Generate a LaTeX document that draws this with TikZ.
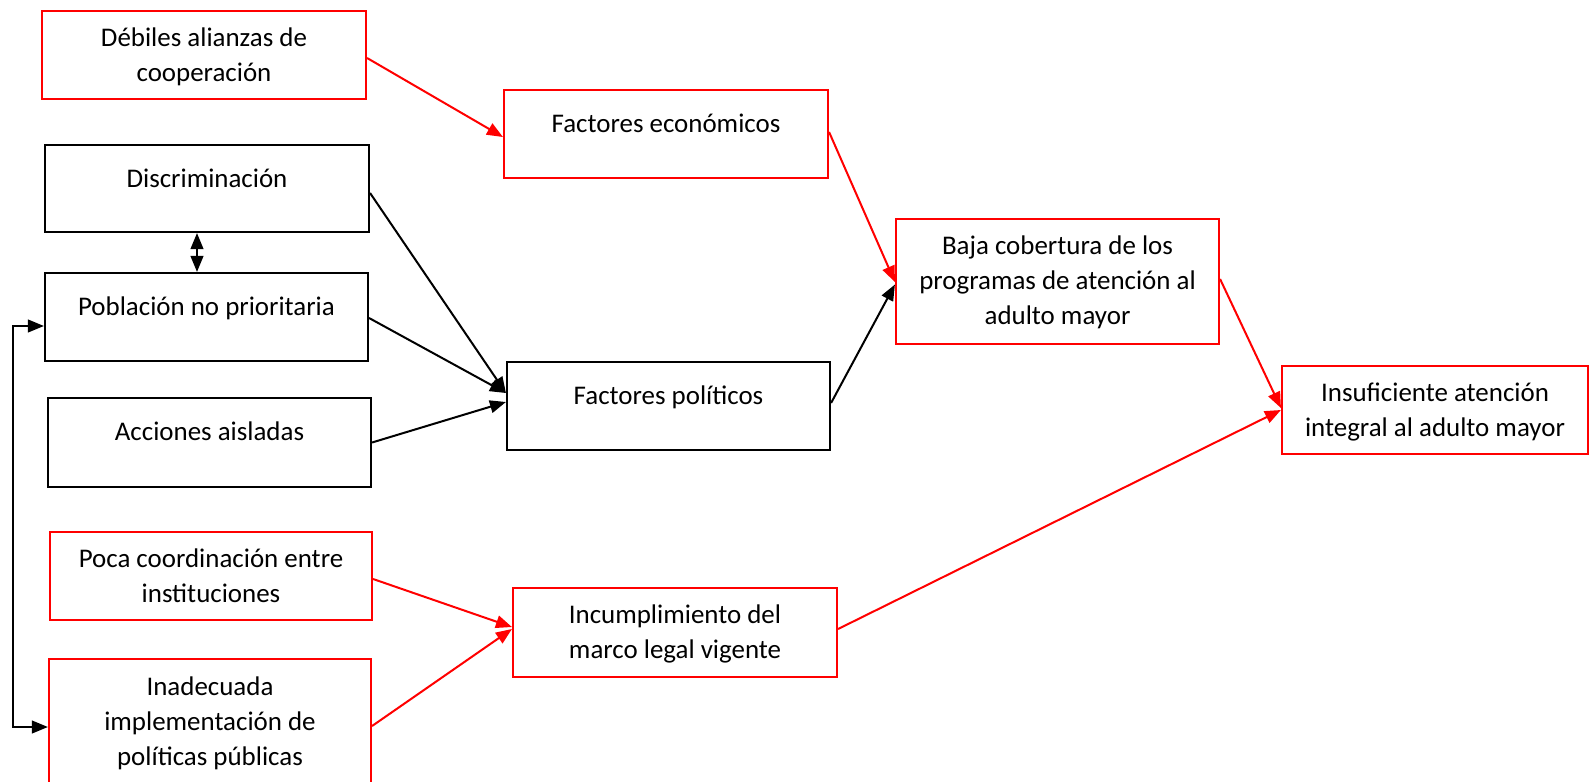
\documentclass[tikz,border=0pt]{standalone}
\usepackage{fontspec}
\setmainfont{Carlito}
\usetikzlibrary{arrows.meta,calc}
\begin{document}
\begin{tikzpicture}[x=0.75pt,y=-0.75pt,
  box/.style={draw, line width=1.6pt, inner sep=0pt},
  rbox/.style={box, draw=red},
  kbox/.style={box, draw=black},
  txt/.style={anchor=north, inner sep=0pt, align=center, font=\fontsize{20.2}{26.4}\selectfont},
  arr/.style={line width=1.5pt, -{Triangle[length=12pt,width=9.5pt]}},
  rarr/.style={arr, color=red},
  karr/.style={arr, color=black},
  darr/.style={line width=1.5pt, {Triangle[length=12pt,width=9.5pt]}-{Triangle[length=12pt,width=9.5pt]}, color=black}
]
\useasboundingbox (0,0) rectangle (1589,782);

% boxes
\node[rbox, minimum width=243pt, minimum height=66pt] (deb) at (204,55) {};
\node[rbox, minimum width=243pt, minimum height=66pt] (eco) at (666,134) {};
\node[kbox, minimum width=243pt, minimum height=65.25pt] (dis) at (207,188.5) {};
\node[kbox, minimum width=242.25pt, minimum height=66pt] (pob) at (206.5,317) {};
\node[kbox, minimum width=242.25pt, minimum height=66.75pt] (acc) at (209.5,442.5) {};
\node[kbox, minimum width=242.25pt, minimum height=66pt] (pol) at (668.5,406) {};
\node[rbox, minimum width=242.25pt, minimum height=93.75pt] (baja) at (1057.5,281.5) {};
\node[rbox, minimum width=229.5pt, minimum height=66pt] (ins) at (1435,410) {};
\node[rbox, minimum width=241.5pt, minimum height=66pt] (poca) at (211,576) {};
\node[rbox, minimum width=243pt, minimum height=66.75pt] (inc) at (675,632.5) {};
\node[rbox, minimum width=241.5pt, minimum height=105.75pt] (inad) at (210,729.5) {};

% texts
\node[txt] (debT) at ($(deb.north)+(0,11.4)$) {\strut Débiles alianzas de\\\strut cooperación};
\node[txt] (ecoT) at ($(eco.north)+(0,18.4)$) {\strut Factores económicos};
\node[txt] (disT) at ($(dis.north)+(0,18.4)$) {\strut Discriminación};
\node[txt] (pobT) at ($(pob.north)+(0,18.4)$) {\strut Población no prioritaria};
\node[txt] (accT) at ($(acc.north)+(0,18.4)$) {\strut Acciones aisladas};
\node[txt] (polT) at ($(pol.north)+(0,18.4)$) {\strut Factores políticos};
\node[txt] (bajaT) at ($(baja.north)+(0,11.4)$) {\strut Baja cobertura de los\\\strut programas de atención al\\\strut adulto mayor};
\node[txt] (insT) at ($(ins.north)+(0,11.4)$) {\strut Insuficiente atención\\\strut integral al adulto mayor};
\node[txt] (pocaT) at ($(poca.north)+(0,11.4)$) {\strut Poca coordinación entre\\\strut instituciones};
\node[txt] (incT) at ($(inc.north)+(0,11.4)$) {\strut Incumplimiento del\\\strut marco legal vigente};
\node[txt] (inadT) at ($(inad.north)+(0,12.4)$) {\strut Inadecuada\\\strut implementación de\\\strut políticas públicas};

% connectors
\draw[rarr] ($(deb.east)+(0,3)$) -- ($(eco.west)+(0,3)$);
\draw[rarr] ($(eco.east)+(0,-2)$) -- ($(baja.west)+(0,0.5)$);
\draw[karr] ($(pol.east)+(0,-3)$) -- ($(baja.west)+(0,3)$);
\draw[karr] ($(dis.east)+(0,4.5)$) -- ($(pol.west)+(0,-13)$);
\draw[karr] ($(pob.east)+(0,1)$) -- ($(pol.west)+(0,-13)$);
\draw[karr] ($(acc.east)+(0,0)$) -- ($(pol.west)+(0,-4)$);
\draw[rarr] ($(baja.east)+(0,-2.5)$) -- ($(ins.west)+(0,-2)$);
\draw[rarr] ($(inc.east)+(0,-3.5)$) -- ($(ins.west)+(0,0)$);
\draw[rarr] ($(poca.east)+(0,3)$) -- ($(inc.west)+(0,-5.5)$);
\draw[rarr] ($(inad.east)+(0,-3.5)$) -- ($(inc.west)+(0,-3.5)$);
\draw[darr] ($(dis.south)+(-10,0)$) -- ($(pob.north)+(-9.5,0)$);
\draw[darr] ($(pob.west)+(0,9)$) -- ($(pob.west)+(-31,9)$) |- ($(inad.west)+(0,-2.5)$);
\end{tikzpicture}
\end{document}
